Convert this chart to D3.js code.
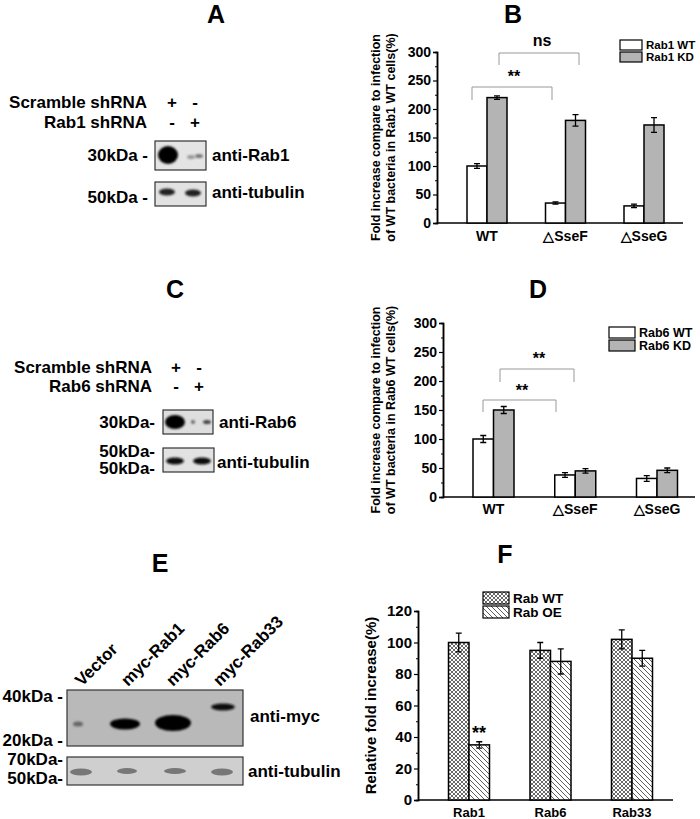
<!DOCTYPE html>
<html><head><meta charset="utf-8">
<script src="https://cdn.jsdelivr.net/npm/d3@7"></script>
<style>
body{margin:0;background:#fff;}
text{font-family:"Liberation Sans",Arial,sans-serif;font-weight:bold;fill:#000;}
</style></head>
<body>
<svg id="fig" width="700" height="819"></svg>
<script>
// --- data ---
const groupsBD = ["WT", "\u25B3SseF", "\u25B3SseG"];
const rab1WT = [100, 35, 30], rab1WTErr = [4, 2, 3];
const rab1KD = [220, 180, 172], rab1KDErr = [3, 10, 13];
const rab6WT = [100, 38, 32], rab6WTErr = [6, 4, 5];
const rab6KD = [150, 45, 46], rab6KDErr = [6, 4, 4];
const groupsF = ["Rab1", "Rab6", "Rab33"];
const rabWT = [100, 95, 102], rabWTErr = [6, 5, 6];
const rabOE = [35, 88, 90], rabOEErr = [2, 8, 5];

const svg = d3.select("#fig");
const BLOT_FONT = 17;

// patterns + blur
const defs = svg.append("defs");
const cross = defs.append("pattern").attr("id", "cross").attr("patternUnits", "userSpaceOnUse")
    .attr("width", 4).attr("height", 4);
cross.append("rect").attr("width", 4).attr("height", 4).attr("fill", "#fff");
cross.append("path").attr("d", "M0,0L4,4M4,0L0,4").attr("stroke", "#444").attr("stroke-width", 0.8);
const diag = defs.append("pattern").attr("id", "diag").attr("patternUnits", "userSpaceOnUse")
    .attr("width", 5).attr("height", 5);
diag.append("rect").attr("width", 5).attr("height", 5).attr("fill", "#fff");
diag.append("path").attr("d", "M0,0L5,5M-1,4L1,6M4,-1L6,1").attr("stroke", "#333").attr("stroke-width", 0.8);
[1, 2, 3].forEach(s => defs.append("filter").attr("id", "blur" + s)
    .attr("x", "-50%").attr("y", "-50%").attr("width", "200%").attr("height", "200%")
    .append("feGaussianBlur").attr("stdDeviation", s));

function label(x, y, t, size, anchor) {
    return svg.append("text").attr("x", x).attr("y", y).attr("font-size", size)
        .attr("text-anchor", anchor || "start").text(t);
}

// panel letters
[["A", 216, 23], ["B", 513, 23], ["C", 175, 298], ["D", 538, 298], ["E", 160, 572], ["F", 505, 563]]
    .forEach(d => label(d[1], d[2], d[0], 25, "middle"));

// ---------- bar chart helper ----------
function barChart(o) {
    const g = svg.append("g");
    const y = d3.scaleLinear().domain([0, o.max]).range([o.y0, o.y1]);
    const x = d3.scalePoint().domain(o.groups).range(o.xr);
    const yAxis = g.append("g").attr("transform", `translate(${o.x0},0)`)
        .call(d3.axisLeft(y).tickValues(d3.range(0, o.max + 1, o.step)).tickSize(4).tickPadding(2));
    yAxis.append("g").call(d3.axisLeft(y).tickValues(d3.range(o.step / 2, o.max, o.step)).tickSize(2).tickFormat(""));
    yAxis.selectAll("path").attr("stroke-width", 1.5);
    yAxis.selectAll("line").attr("stroke-width", 1.2);
    yAxis.selectAll("text").attr("font-size", o.tick).style("font-weight", "bold").attr("fill", "#000");
    g.append("line").attr("x1", o.x0).attr("x2", o.xEnd).attr("y1", o.y0).attr("y2", o.y0)
        .attr("stroke", "#000").attr("stroke-width", 1.5);
    g.selectAll(".cat").data(o.groups).enter().append("text")
        .attr("x", d => x(d)).attr("y", o.catY).attr("text-anchor", "middle")
        .attr("font-size", o.catFont).text(d => d);
    o.series.forEach((s, si) => {
        const off = si === 0 ? -o.bw : 0;
        g.selectAll(null).data(s.v).enter().append("rect")
            .attr("x", (d, i) => x(o.groups[i]) + off).attr("y", d => y(d))
            .attr("width", o.bw).attr("height", d => o.y0 - y(d))
            .attr("fill", s.fill).attr("stroke", "#000").attr("stroke-width", 1.5);
        s.v.forEach((v, i) => {
            const cx = x(o.groups[i]) + off + o.bw / 2, e = s.e[i];
            g.append("path").attr("d",
                `M${cx},${y(v - e)}V${y(v + e)}M${cx - 3},${y(v - e)}H${cx + 3}M${cx - 3},${y(v + e)}H${cx + 3}`)
                .attr("stroke", "#000").attr("stroke-width", 1.3).attr("fill", "none");
        });
        // legend
        const ly = o.leg[1] + si * o.leg[3];
        g.append("rect").attr("x", o.leg[0]).attr("y", ly).attr("width", o.leg[2]).attr("height", o.leg[3] - 2)
            .attr("fill", s.fill).attr("stroke", "#000").attr("stroke-width", 1.2);
        g.append("text").attr("x", o.leg[0] + o.leg[2] + 4).attr("y", ly + o.leg[3] - 3)
            .attr("font-size", o.legFont).text(s.name);
    });
    // y title
    const mid = (o.y0 + o.y1) / 2;
    o.title.forEach((t, i) => g.append("text")
        .attr("transform", `translate(${o.titleX[i]},${mid}) rotate(-90)`)
        .attr("text-anchor", "middle").attr("font-size", o.titleFont).text(t));
    return {x, y, g};
}

function bracket(g, x1, x2, yTop, yBot, txt, tx, ty) {
    g.append("path").attr("d", `M${x1},${yBot}V${yTop}H${x2}V${yBot}`)
        .attr("fill", "none").attr("stroke", "#999").attr("stroke-width", 1);
    g.append("text").attr("x", tx).attr("y", ty).attr("text-anchor", "middle").attr("font-size", 16).text(txt);
}

// Panel B
const B = barChart({
    groups: groupsBD, max: 300, step: 50, y0: 223, y1: 52, x0: 437, xEnd: 683, xr: [487, 644], bw: 20,
    tick: 14, catY: 241, catFont: 14, leg: [620, 40, 22, 12], legFont: 11.5,
    title: ["Fold increase compare to infection", "of WT bacteria in Rab1 WT cells(%)"], titleX: [380, 395], titleFont: 12.5,
    series: [{name: "Rab1 WT", v: rab1WT, e: rab1WTErr, fill: "#fff"},
             {name: "Rab1 KD", v: rab1KD, e: rab1KDErr, fill: "#b4b4b4"}]
});
bracket(B.g, 472, 552, 87, 100, "**", 514, 82);
bracket(B.g, 499, 579, 53, 65, "ns", 542, 46);

// Panel D
const D = barChart({
    groups: groupsBD, max: 300, step: 50, y0: 497, y1: 323, x0: 443, xEnd: 695, xr: [493.5, 657], bw: 20.5,
    tick: 14, catY: 514, catFont: 14, leg: [609, 327, 26, 13], legFont: 12.5,
    title: ["Fold increase compare to infection", "of WT bacteria in Rab6 WT cells(%)"], titleX: [380, 395], titleFont: 12.5,
    series: [{name: "Rab6 WT", v: rab6WT, e: rab6WTErr, fill: "#fff"},
             {name: "Rab6 KD", v: rab6KD, e: rab6KDErr, fill: "#b4b4b4"}]
});
bracket(D.g, 483, 556, 400, 412, "**", 522, 396);
bracket(D.g, 500, 574, 369, 382, "**", 539, 364);

// Panel F
const F = barChart({
    groups: groupsF, max: 120, step: 20, y0: 800, y1: 611, x0: 418, xEnd: 673, xr: [469, 632], bw: 20.5,
    tick: 15, catY: 817, catFont: 13, leg: [483, 592, 26, 14], legFont: 13.5,
    title: ["Relative fold increase(%)"], titleX: [376], titleFont: 15,
    series: [{name: "Rab WT", v: rabWT, e: rabWTErr, fill: "url(#cross)"},
             {name: "Rab OE", v: rabOE, e: rabOEErr, fill: "url(#diag)"}]
});
F.g.append("text").attr("x", F.x("Rab1") + 10).attr("y", F.y(rabOE[0] + rabOEErr[0]) - 3)
    .attr("text-anchor", "middle").attr("font-size", 18).text("**");

// ---------- western blots ----------
function blot(x, y, w, h, bg, bands) {
    const g = svg.append("g");
    g.append("rect").attr("x", x).attr("y", y).attr("width", w).attr("height", h)
        .attr("fill", bg).attr("stroke", "#333").attr("stroke-width", 1.2);
    const cp = "clip" + Math.round(x) + Math.round(y);
    defs.append("clipPath").attr("id", cp).append("rect").attr("x", x).attr("y", y).attr("width", w).attr("height", h);
    g.append("g").attr("clip-path", `url(#${cp})`).selectAll("ellipse").data(bands).enter().append("ellipse")
        .attr("cx", d => d[0]).attr("cy", d => d[1]).attr("rx", d => d[2]).attr("ry", d => d[3])
        .attr("fill", d => d[4]).attr("filter", d => `url(#blur${d[5]})`);
}

// Panel A
label(147, 108, "Scramble  shRNA", BLOT_FONT, "end");
label(147, 128, "Rab1 shRNA", BLOT_FONT, "end");
[["+", 172, 108], ["-", 195, 108], ["-", 172, 128], ["+", 195, 128]].forEach(d => label(d[1], d[2], d[0], BLOT_FONT, "middle"));
blot(155, 141, 51, 29, "#e4e4e4", [[168, 155, 10, 9, "#000", 1], [191, 157, 4, 2, "#999", 1], [199, 156, 4, 2, "#777", 1]]);
blot(155, 182, 51, 24, "#e2e2e2", [[167, 192, 8, 3.5, "#222", 1], [193, 193, 8, 3.5, "#222", 1]]);
label(148, 161, "30kDa -", BLOT_FONT, "end");
label(148, 203, "50kDa -", BLOT_FONT, "end");
label(212, 161, "anti-Rab1", BLOT_FONT);
label(212, 198, "anti-tubulin", BLOT_FONT);

// Panel C
label(152, 373, "Scramble shRNA", BLOT_FONT, "end");
label(152, 392, "Rab6 shRNA", BLOT_FONT, "end");
[["+", 176, 373], ["-", 199, 373], ["-", 176, 392], ["+", 199, 392]].forEach(d => label(d[1], d[2], d[0], BLOT_FONT, "middle"));
blot(163, 410, 50, 24, "#dedede", [[175, 422, 10, 7, "#000", 1], [193, 422, 2, 2, "#666", 1], [207, 422, 4, 2, "#444", 1]]);
blot(163, 448, 51, 24, "#e2e2e2", [[175, 461, 9, 3.5, "#111", 1], [202, 461, 9, 3.5, "#111", 1]]);
label(155, 428, "30kDa-", BLOT_FONT, "end");
label(155, 457, "50kDa-", BLOT_FONT, "end");
label(155, 474, "50kDa-", BLOT_FONT, "end");
label(219, 428, "anti-Rab6", BLOT_FONT);
label(217, 468, "anti-tubulin", BLOT_FONT);

// Panel E
[["Vector", 82], ["myc-Rab1", 128], ["myc-Rab6", 173], ["myc-Rab33", 220]].forEach(d =>
    svg.append("text").attr("transform", `translate(${d[1]},${687}) rotate(-45)`).attr("font-size", BLOT_FONT).text(d[0]));
blot(67, 690, 176, 56, "#b9b9b9", [[78, 724, 5, 2.5, "#666", 1], [125, 724, 15, 5.5, "#000", 1],
    [173, 723, 18, 8, "#000", 1], [223, 707, 12, 3.5, "#111", 1]]);
blot(67, 757, 176, 28, "#cfcfcf", [[81, 772, 11, 3.5, "#777", 1.5], [127, 771, 10, 3, "#777", 1.5],
    [175, 771, 11, 3, "#777", 1.5], [222, 772, 11, 3.5, "#777", 1.5]]);
label(63, 702, "40kDa -", BLOT_FONT, "end");
label(63, 746, "20kDa -", BLOT_FONT, "end");
label(63, 765, "70kDa-", BLOT_FONT, "end");
label(63, 784, "50kDa-", BLOT_FONT, "end");
label(250, 722, "anti-myc", BLOT_FONT);
label(248, 777, "anti-tubulin", BLOT_FONT);
</script>
</body></html>
